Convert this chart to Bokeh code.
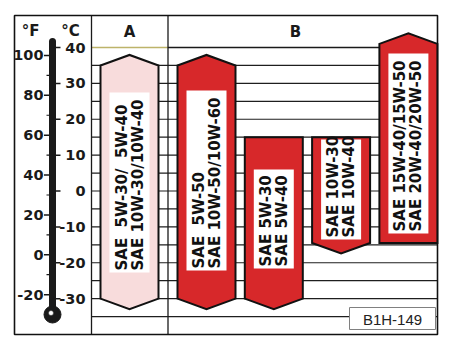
import numpy as np
from bokeh.plotting import figure
from bokeh.models import Range1d
from bokeh.core.properties import value
from bokeh.embed import file_html
from bokeh.resources import INLINE

# ---------------- data ----------------
NB = "\u00a0"  # non-breaking space so that the double spaces survive in SVG
groups = ["A", "B", "B", "B", "B"]
label_line1 = ["SAE" + NB * 2 + "5W-30/" + NB * 2 + "5W-40", "SAE" + NB * 2 + "5W-50",
               "SAE 5W-30", "SAE 10W-30", "SAE 15W-40/15W-50"]
label_line2 = ["SAE 10W-30/10W-40", "SAE 10W-50/10W-60", "SAE 5W-40", "SAE 10W-40", "SAE 20W-40/20W-50"]
temp_low_c = [-30, -30, -30, -14.5, -14.5]      # lower end of range (°C)
temp_high_c = [35, 35, 15, 15, 41]              # upper end of range (°C)
open_low = [True, True, True, True, False]      # range continues below (arrow)
open_high = [True, True, False, False, True]    # range continues above (arrow)
celsius_ticks = [40, 30, 20, 10, 0, -10, -20, -30]
fahrenheit_ticks = [100, 80, 60, 40, 20, 0, -20]
fahrenheit_minor = [90, 70, 50, 30, 10, -10]
grid_c = [35, 30, 25, 20, 15, 10, 5, 0, -5, -10, -15, -20, -25, -30, -35]
code_label = "B1H-149"

# ---------------- layout ----------------
W, H = 456, 352
S = 287.0 / 80.0           # pixels per °C
def T(py):                 # vertical pixel -> °C
    return 40 - (py - 47) / S

p = figure(width=W, height=H, output_backend="svg", toolbar_location=None,
           x_range=Range1d(0, W), y_range=Range1d(T(H), T(0)),
           x_axis_type=None, y_axis_type=None, min_border=0,
           min_border_left=0, min_border_right=0, min_border_top=0, min_border_bottom=0)
p.grid.visible = False
p.outline_line_color = None
p.background_fill_color = "white"
p.border_fill_color = "white"

FL, FR, FT, FB = 14, 437, T(15), -40
XA, XB = 91, 167.5
RED = "#d7282a"
PINK = "#f8dcdc"

# grid lines
p.segment(x0=[XA] * len(grid_c), x1=[FR] * len(grid_c), y0=grid_c, y1=grid_c,
          line_color="#1e1e1e", line_width=1.2)
# header bottom line (40 °C)
p.segment(x0=[XA, XB], x1=[XB, FR], y0=[40, 40], y1=[40, 40],
          line_color=["#bdb36a", "#1a1a1a"], line_width=1.3)
# dividers
p.segment(x0=[XA, XB], x1=[XA, XB], y0=[FT, FT], y1=[FB, FB], line_color="#1a1a1a", line_width=1.3)
# frame
p.quad(left=[FL], right=[FR], top=[FT], bottom=[FB], fill_alpha=0,
       line_color="#111111", line_width=1.6)

# bars
ARROW = 10.5 / S
HALF = 29
centers = []
bi = 0
for g in groups:
    if g == "A":
        centers.append(129.0)
    else:
        centers.append(206.0 + 67.3 * bi)
        bi += 1

xs, ys, fills = [], [], []
for c, lo, hi, ol, oh, g in zip(centers, temp_low_c, temp_high_c, open_low, open_high, groups):
    px = [c - HALF, c - HALF]
    py = [lo, hi]
    if oh:
        px.append(c); py.append(hi + ARROW)
    px += [c + HALF, c + HALF]
    py += [hi, lo]
    if ol:
        px.append(c); py.append(lo - ARROW)
    xs.append(px); ys.append(py)
    fills.append(PINK if g == "A" else RED)
p.patches(xs=xs, ys=ys, fill_color=fills, line_color="#111111", line_width=2, line_join="miter")

# label boxes (pixel extents)
box_px = [(92, 272), (90, 270), (169, 268), (139, 239), (53, 233)]
BOXH = 20
p.quad(left=[c - BOXH for c in centers], right=[c + BOXH for c in centers],
       top=[T(b[0]) for b in box_px], bottom=[T(b[1]) for b in box_px],
       fill_color="white", line_color=None)

LBL = dict(angle=np.pi / 2, text_align="left", text_baseline="middle",
           text_font=value("DejaVu Sans"), text_font_style="bold",
           text_font_size="15px", text_color="#111111")
starts = [T(b[1] - 2) for b in box_px]
p.text(x=[c - 8 for c in centers], y=starts, text=label_line1, **LBL)
p.text(x=[c + 8 for c in centers], y=starts, text=label_line2, **LBL)

# thermometer
TX = 52
p.segment(x0=[TX], x1=[TX], y0=[T(312)], y1=[T(41)], line_color="#1a1a1a",
          line_width=7, line_cap="round")
p.scatter(x=[TX], y=[T(314)], size=17, marker="circle", fill_color="#1a1a1a", line_color="#1a1a1a")
p.scatter(x=[TX - 1.5], y=[T(312.5)], size=5, marker="circle", fill_color="white", line_color="#1a1a1a",
          line_width=0.5)

f_c = [(f - 32) * 5.0 / 9.0 for f in fahrenheit_ticks]
fm_c = [(f - 32) * 5.0 / 9.0 for f in fahrenheit_minor]
p.segment(x0=[43.5] * len(f_c), x1=[49] * len(f_c), y0=f_c, y1=f_c, line_color="#1a1a1a", line_width=1.5)
p.segment(x0=[46] * len(fm_c), x1=[49] * len(fm_c), y0=fm_c, y1=fm_c, line_color="#1a1a1a", line_width=1.2)
p.segment(x0=[55] * len(celsius_ticks), x1=[60] * len(celsius_ticks), y0=celsius_ticks, y1=celsius_ticks,
          line_color="#1a1a1a", line_width=1.5)

NUM = dict(text_font=value("DejaVu Sans"), text_font_style="bold", text_font_size="14.5px",
           text_color="#1a1a1a", text_baseline="middle")
p.text(x=[43] * len(f_c), y=f_c, text=[str(v) for v in fahrenheit_ticks], text_align="right", **NUM)
p.text(x=[85] * len(celsius_ticks), y=celsius_ticks, text=[str(v) for v in celsius_ticks],
       text_align="right", **NUM)

HDR = dict(text_font=value("DejaVu Sans"), text_font_style="bold", text_font_size="15px",
           text_color="#1a1a1a", text_baseline="middle", text_align="center")
p.text(x=[30, 70], y=[T(30), T(30)], text=["°F", "°C"], **HDR)
p.text(x=[129, 295], y=[T(31), T(31)], text=["A", "B"], **HDR)

# code box
p.quad(left=[349], right=[435], top=[T(307)], bottom=[T(329)], fill_color="white",
       line_color="#808080", line_width=1)
p.text(x=[392], y=[T(318.5)], text=[code_label], text_align="center", text_baseline="middle",
       text_font=value("Liberation Sans"), text_font_size="15px", text_color="#222222")

open("out.html", "w").write(file_html(p, INLINE))
